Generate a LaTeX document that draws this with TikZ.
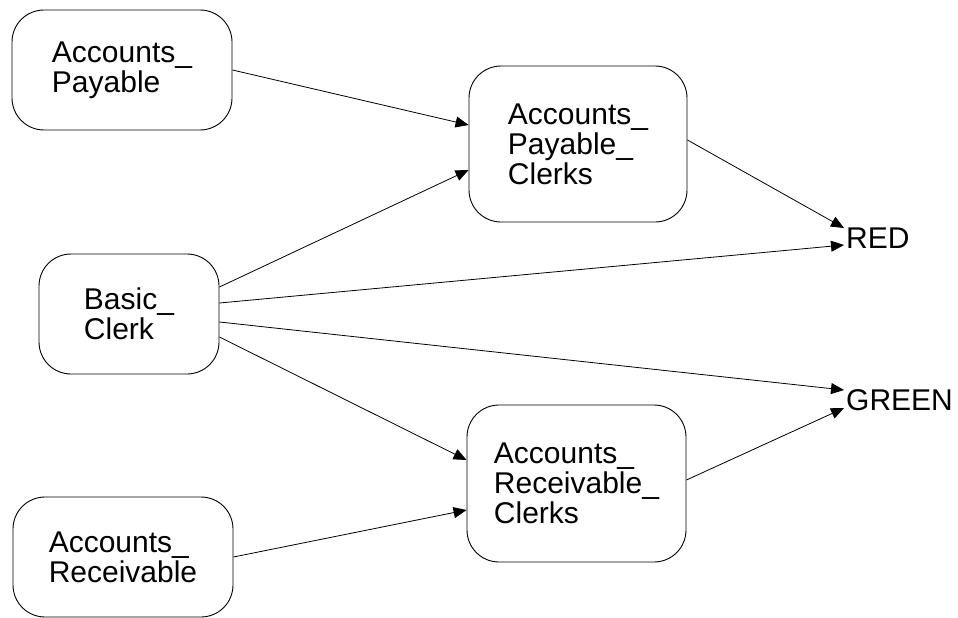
\documentclass[tikz,border=0pt]{standalone}
\usepackage{fontspec}
\setmainfont{Liberation Sans}
\usetikzlibrary{arrows.meta}
\begin{document}
\begin{tikzpicture}[x=1pt, y=-1pt,
    role/.style={draw, line width=0.9pt, rounded corners=32pt, align=left,
      inner sep=0pt, font=\fontsize{30}{30}\selectfont},
    tint/.style={inner sep=2pt, anchor=west, font=\fontsize{30}{30}\selectfont},
    grant/.style={-{Triangle[length=13pt, width=11pt]}, line width=0.8pt}]

    %% =========================================================
    %% CANVAS — one unit is one pixel of the 958 x 618 original
    %% =========================================================
    \useasboundingbox (0,0) rectangle (958,618);

    %% LEFT COLUMN: base roles
    \node[role, minimum width=220pt, minimum height=120pt] (ap) at (122,70)
      {Accounts\_\\Payable};
    \node[role, minimum width=180pt, minimum height=120pt] (bc) at (129,314)
      {Basic\_\\Clerk};
    \node[role, minimum width=220pt, minimum height=120pt] (ar) at (123,557)
      {Accounts\_\\Receivable};

    %% MIDDLE COLUMN: clerk roles
    \node[role, minimum width=218pt, minimum height=156pt] (apc) at (578,144)
      {Accounts\_\\Payable\_\\Clerks};
    \node[role, minimum width=219pt, minimum height=157pt] (arc) at (576.5,483.5)
      {Accounts\_\\Receivable\_\\Clerks};

    %% RIGHT: colours
    \node[tint] (red) at (844,238) {RED};
    \node[tint] (green) at (844,400) {GREEN};

    %% ARROWS into the clerk roles
    \draw[grant] (ap.east) -- ([yshift=19pt]apc.west);
    \draw[grant] ([yshift=27pt]bc.east) -- ([yshift=-26pt]apc.west);
    \draw[grant] ([yshift=-23pt]bc.east) -- ([yshift=23.5pt]arc.west);
    \draw[grant] (ar.east) -- ([yshift=-26.5pt]arc.west);

    %% ARROWS into the colours
    \draw[grant] ([yshift=4pt]apc.east) -- ([yshift=10pt]red.west);
    \draw[grant] ([yshift=11pt]bc.east) -- ([yshift=-7pt]red.west);
    \draw[grant] ([yshift=-8pt]bc.east) -- ([yshift=10pt]green.west);
    \draw[grant] ([yshift=3.5pt]arc.east) -- ([yshift=-8pt]green.west);

\end{tikzpicture}
\end{document}
